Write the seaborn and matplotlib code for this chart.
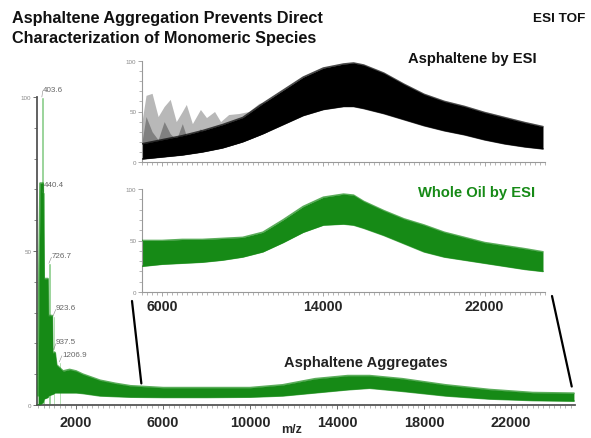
import numpy as np
import pandas as pd
import seaborn as sns
import matplotlib.pyplot as plt
from matplotlib.ticker import MultipleLocator, FixedLocator
from matplotlib.patches import ConnectionPatch

# ---- main spectrum (whole range, envelope of the noisy trace) ----
main_mz = [250, 300, 345, 480, 520, 700, 720, 900, 920, 1030, 1100, 1400, 1700, 2000,
           2300, 2700, 3100, 3800, 4500, 6000, 8000, 10000, 11500, 13000, 14500,
           15500, 17000, 19000, 21000, 23000, 24900]
main_hi = [3, 45, 72, 72, 41, 41, 29, 29, 17, 17, 13, 11, 11.5, 11,
           10, 9, 8, 7, 6.2, 5.6, 5.6, 5.6, 6.5, 8.5, 9.5,
           9.5, 8.5, 6.5, 5, 4, 3.8]
main_lo = [0, 0, 0, 1, 2, 2.5, 3, 3.5, 3.5, 4, 4, 4, 4, 4,
           3.8, 3.4, 3, 2.8, 2.6, 2.5, 2.5, 2.6, 3, 4, 5,
           5.5, 4.5, 3, 2, 1.5, 1.3]

# labelled low-mass peaks
peak_mz = [403.6, 440.4, 726.7, 923.6, 937.5, 1206.9]
peak_h = [100, 69, 46, 29, 18, 14]
peak_lbl = ["403.6", "440.4", "726.7", "923.6", "937.5", "1206.9"]

# ---- inset envelopes (5000-25000 m/z) ----
ins_mz = [5000, 6000, 7000, 8000, 9000, 10000, 11000, 12000, 13000, 14000, 15000,
          15500, 16000, 17000, 18000, 19000, 20000, 21000, 22000, 23000, 24000, 24900]
asph_hi = [18, 22, 26, 31, 37, 44, 58, 71, 84, 93, 97, 98, 96, 88, 77, 67, 60, 55, 49, 44, 39, 35]
asph_lo = [3, 5, 7, 10, 14, 20, 28, 37, 46, 52, 55, 55, 53, 48, 42, 36, 31, 27, 22, 18, 15, 13]
oil_hi = [50, 50, 51, 51, 52, 53, 58, 70, 83, 92, 95, 94, 88, 79, 71, 65, 58, 53, 48, 45, 42, 39]
oil_lo = [25, 27, 28, 29, 31, 34, 39, 48, 58, 65, 66, 65, 62, 55, 47, 39, 34, 31, 28, 25, 22, 20]

# gray low-mass spikes in the asphaltene inset
gray_mz = [5000, 5200, 5500, 5800, 6100, 6400, 6700, 7000, 7200, 7500, 7900, 8200,
           8600, 8900, 9300, 9800, 10300, 10800, 11200]
gray_hi = [40, 66, 68, 45, 55, 62, 40, 50, 57, 38, 52, 44, 50, 40, 47, 48, 50, 58, 60]
gray_mid = [20, 45, 30, 22, 40, 28, 22, 38, 26, 22, 33, 25, 28, 30, 30, 34, 38, 44, 46]

GREEN = "#168a16"
LIGHT = "#86cc86"

sns.set_style("white")
plt.rcParams['font.family'] = ['Liberation Sans', 'DejaVu Sans']

fig = plt.figure(figsize=(5.91, 4.39), dpi=100)
W, H = 591, 439


def px_axes(l, t, r, b):
    return fig.add_axes([l / W, 1 - b / H, (r - l) / W, (b - t) / H])


def style_axes(a, xmin, xmax, spine_col, lw):
    sns.despine(ax=a)
    for s in ["left", "bottom"]:
        a.spines[s].set_color(spine_col)
        a.spines[s].set_linewidth(lw)
    a.set_ylim(0, 100)
    a.set_xlim(xmin, xmax)
    a.yaxis.set_major_locator(FixedLocator([0, 50, 100]))
    a.yaxis.set_minor_locator(MultipleLocator(10))
    a.xaxis.set_minor_locator(MultipleLocator(250))
    a.tick_params(axis="y", which="major", length=3, width=0.6, color=spine_col,
                  labelsize=4.5, labelcolor="#888888", pad=1, left=True)
    a.tick_params(axis="y", which="minor", length=2, width=0.5, color=spine_col, left=True)
    a.tick_params(axis="x", which="major", length=3, width=0.6, color=spine_col, bottom=True)
    a.tick_params(axis="x", which="minor", length=2, width=0.5, color="#999999", bottom=True)
    a.set_xlabel("")
    a.set_ylabel("")


# ---- main axes ----
ax = px_axes(37, 98, 575, 406)
main_df = pd.DataFrame({"mz": main_mz, "hi": main_hi, "lo": main_lo})
ax.bar(peak_mz, peak_h, width=110, color=LIGHT, align="edge", zorder=1)
ax.fill_between(main_df["mz"], main_df["lo"], main_df["hi"], color=GREEN, lw=0, zorder=2)
sns.lineplot(data=main_df, x="mz", y="hi", ax=ax, color=GREEN, lw=1.4, alpha=0.7, zorder=3)
sns.lineplot(data=main_df, x="mz", y="lo", ax=ax, color=GREEN, lw=1.4, alpha=0.7, zorder=3)
style_axes(ax, 200, 24950, "#555555", 1.3)
ax.set_xticks(range(2000, 24000, 4000))
ax.tick_params(axis="x", labelsize=10.4, pad=4)
for t in ax.get_xticklabels():
    t.set_fontweight("bold")
ax.set_xlabel("m/z", fontsize=9, fontweight="bold")
ax.xaxis.set_label_coords(0.474, -0.058)

for m, h, s in zip(peak_mz, peak_h, peak_lbl):
    dx = 60 if m < 700 else 140
    ax.text(m + dx, h + 2.5, s, fontsize=5.8, color="#666666", ha="left", va="center",
            clip_on=False)
    ax.plot([m + 20, m + dx], [h, h + 2], color="#888888", lw=0.4, clip_on=False)

ax.text(366 / W, 1 - 363 / H, "Asphaltene Aggregates", transform=fig.transFigure,
        ha="center", va="center", fontsize=10.5, fontweight="bold", color="#222222")

# ---- inset 1: asphaltene by ESI ----
ax1 = px_axes(142, 62, 545, 163)
a_df = pd.DataFrame({"mz": ins_mz, "hi": asph_hi, "lo": asph_lo})
g_df = pd.DataFrame({"mz": gray_mz, "hi": gray_hi, "mid": gray_mid})
g_df["base"] = np.interp(g_df["mz"], a_df["mz"], a_df["lo"])
ax1.fill_between(g_df["mz"], g_df["base"], g_df["hi"], color="#b8b8b8", lw=0, zorder=1)
ax1.fill_between(g_df["mz"], g_df["base"], g_df["mid"], color="#808080", lw=0, zorder=1.5)
ax1.fill_between(a_df["mz"], a_df["lo"], a_df["hi"], color="black", lw=0, zorder=2)
sns.lineplot(data=a_df, x="mz", y="hi", ax=ax1, color="black", lw=1.2, alpha=0.7, zorder=3)
sns.lineplot(data=a_df, x="mz", y="lo", ax=ax1, color="black", lw=1.2, alpha=0.7, zorder=3)
style_axes(ax1, 5000, 25000, "#999999", 0.8)
ax1.set_xticks([6000, 14000, 22000])
ax1.set_xticklabels([])
ax1.patch.set_alpha(0)

# ---- inset 2: whole oil by ESI ----
ax2 = px_axes(142, 190, 545, 293)
o_df = pd.DataFrame({"mz": ins_mz, "hi": oil_hi, "lo": oil_lo})
ax2.fill_between(o_df["mz"], o_df["lo"], o_df["hi"], color=GREEN, lw=0, zorder=2)
sns.lineplot(data=o_df, x="mz", y="hi", ax=ax2, color=GREEN, lw=1.2, alpha=0.7, zorder=3)
sns.lineplot(data=o_df, x="mz", y="lo", ax=ax2, color=GREEN, lw=1.2, alpha=0.7, zorder=3)
style_axes(ax2, 5000, 25000, "#999999", 0.8)
ax2.set_xticks([6000, 14000, 22000])
ax2.tick_params(axis="x", labelsize=10.2, pad=2)
for t in ax2.get_xticklabels():
    t.set_fontweight("bold")
ax2.patch.set_alpha(0)

# ---- zoom connector lines ----
for (fx, fy), (mx, my) in [((132, 302), (5000, 7)), ((552, 297), (24800, 6))]:
    con = ConnectionPatch(xyA=(fx / W, 1 - fy / H), coordsA="figure fraction",
                          xyB=(mx, my), coordsB=ax.transData, color="black", lw=1.6)
    fig.add_artist(con)

# ---- text ----
fig.text(12 / W, 1 - 19 / H, "Asphaltene Aggregation Prevents Direct",
         fontsize=11.7, fontweight="bold", va="center", color="#111111")
fig.text(12 / W, 1 - 38 / H, "Characterization of Monomeric Species",
         fontsize=11.7, fontweight="bold", va="center", color="#111111")
fig.text(585 / W, 1 - 19 / H, "ESI TOF", fontsize=9.7, fontweight="bold",
         ha="right", va="center", color="#111111")
fig.text(537 / W, 1 - 59 / H, "Asphaltene by ESI", fontsize=10.6, fontweight="bold",
         ha="right", va="center", color="#111111")
fig.text(535 / W, 1 - 193 / H, "Whole Oil by ESI", fontsize=10.6, fontweight="bold",
         ha="right", va="center", color=GREEN)

fig.savefig("out.png", dpi=100)
